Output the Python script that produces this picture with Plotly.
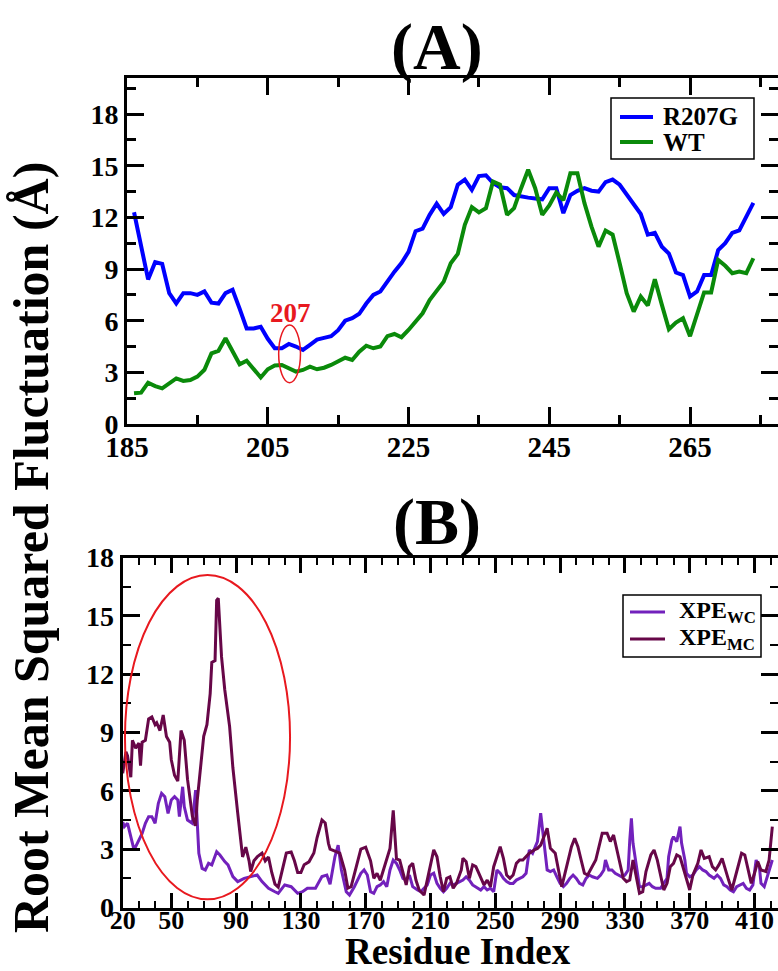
import plotly.graph_objects as go

# ---------------- Panel A: residues 186-274 ----------------
resid_a = list(range(186, 275))
rmsf_r207g = [
    12.3, 10.4, 8.4, 9.4, 9.3, 7.6, 7.0, 7.6, 7.6, 7.5,
    7.7, 7.05, 7.0, 7.6, 7.8, 6.7, 5.55, 5.55, 5.65, 4.95,
    4.4, 4.4, 4.65, 4.5, 4.3, 4.6, 4.9, 5.0, 5.1, 5.45,
    6.0, 6.15, 6.4, 7.0, 7.5, 7.7, 8.3, 8.85, 9.35, 10.0,
    11.2, 11.35, 12.15, 12.8, 12.2, 12.6, 13.9, 14.2, 13.6, 14.4,
    14.45, 14.0, 13.75, 13.7, 13.3, 13.2, 13.15, 13.1, 13.05, 13.7,
    13.7, 12.25, 13.3, 13.55, 13.7, 13.55, 13.5, 14.05, 14.2, 13.9,
    13.3, 12.8, 12.2, 11.0, 11.1, 10.3, 9.9, 8.8, 8.65, 7.4,
    7.7, 8.65, 8.65, 10.1, 10.5, 11.1, 11.25, 12.05, 12.85,
]
rmsf_wt = [
    1.78, 1.82, 2.4, 2.2, 2.07, 2.37, 2.65, 2.5, 2.55, 2.75,
    3.15, 4.1, 4.25, 4.98, 4.2, 3.47, 3.68, 3.18, 2.7, 3.18,
    3.4, 3.43, 3.24, 3.04, 3.14, 3.33, 3.18, 3.27, 3.43, 3.64,
    3.85, 3.72, 4.2, 4.55, 4.4, 4.5, 5.1, 5.23, 5.04, 5.46,
    5.95, 6.43, 7.2, 7.7, 8.27, 9.34, 9.88, 11.57, 12.6, 12.29,
    12.54, 14.09, 13.9, 12.15, 12.54, 13.7, 14.77, 13.7, 12.15, 12.7,
    13.45, 13.0, 14.57, 14.57, 12.83, 11.47, 10.3, 11.24, 11.0, 9.34,
    7.6, 6.53, 7.4, 6.88, 8.41, 6.92, 5.5, 5.89, 6.14, 5.1,
    6.43, 7.64, 7.64, 9.53, 9.19, 8.76, 8.86, 8.76, 9.63,
]

# ---------------- Panel B: XPE complexes ----------------
resid_mc = [
    20, 22, 23, 25, 26, 28, 30, 31, 32, 34, 36, 38, 40, 41, 43, 45, 47, 49, 50, 52,
    54, 56, 58, 60, 63, 65, 66, 70, 72, 74, 75, 77, 78, 79, 81, 83, 86, 88, 91, 94,
    96, 98, 99, 101, 103, 106, 108, 110, 112, 114, 116, 118, 121, 124, 126, 128, 130, 132, 135, 138,
    140, 143, 145, 147, 148, 151, 154, 157, 159, 161, 164, 167, 170, 173, 175, 177, 179, 181, 183, 185,
    187, 189, 191, 193, 195, 197, 199, 201, 203, 206, 208, 210, 212, 214, 216, 218, 220, 222, 224, 226,
    229, 230, 232, 234, 236, 238, 241, 243, 245, 247, 249, 251, 253, 255, 257, 259, 261, 263, 265, 267,
    269, 271, 274, 276, 278, 280, 282, 284, 287, 289, 291, 293, 295, 297, 299, 301, 303, 305, 307, 310,
    312, 314, 316, 319, 321, 323, 325, 327, 329, 331, 333, 335, 337, 339, 341, 343, 346, 348, 350, 352,
    354, 356, 358, 360, 362, 364, 366, 368, 370, 372, 375, 377, 379, 382, 384, 386, 388, 390, 392, 394,
    396, 398, 400, 402, 404, 406, 408, 410, 412, 414, 417, 419, 421,
]
rmsf_mc = [
    6.9, 8.0, 7.8, 6.7, 8.6, 8.2, 8.45, 7.3, 8.5, 8.6, 9.7, 9.8, 9.4, 9.5, 9.1, 9.9, 8.8, 8.5, 7.6, 6.8,
    6.5, 9.1, 8.6, 6.6, 4.7, 4.2, 5.5, 8.8, 9.4, 11.0, 12.6, 12.7, 15.8, 15.9, 12.9, 11.2, 9.3, 7.2, 4.85, 2.6,
    3.1, 2.4, 1.85, 2.4, 2.6, 2.8, 2.4, 2.6, 1.8, 1.2, 1.05, 1.75, 2.8, 2.85, 2.4, 1.8, 1.8, 2.2, 2.35, 2.8,
    3.6, 4.5, 4.35, 3.3, 3.0, 2.9, 2.8, 1.93, 1.0, 1.07, 2.1, 3.0, 3.1, 2.4, 1.5, 1.76, 1.4, 1.93, 2.44, 3.04,
    5.0, 2.5, 2.44, 1.76, 1.16, 2.1, 2.27, 1.41, 0.9, 0.64, 1.41, 2.1, 2.96, 2.61, 1.58, 0.81, 1.5, 1.58, 0.99, 1.24,
    1.93, 2.53, 2.36, 1.5, 2.19, 2.1, 1.58, 1.16, 1.41, 1.07, 2.1, 2.61, 3.13, 2.53, 1.67, 1.5, 1.67, 2.27, 2.44, 2.44,
    2.61, 2.79, 2.96, 3.04, 3.21, 3.64, 4.07, 3.04, 2.79, 1.93, 1.07, 1.76, 2.44, 3.13, 3.56, 3.13, 2.44, 1.76, 1.67, 2.10,
    2.44, 3.13, 3.82, 3.82, 3.39, 3.73, 3.04, 2.27, 1.50, 1.33, 1.41, 2.44, 1.50, 0.73, 0.81, 1.85, 2.70, 2.96, 2.44, 1.67,
    0.90, 1.24, 2.10, 2.27, 2.70, 2.61, 2.02, 1.41, 0.90, 1.67, 2.27, 2.96, 2.53, 2.61, 2.10, 1.93, 2.19, 2.53, 1.93, 1.41,
    0.90, 1.50, 2.10, 2.79, 2.70, 1.93, 1.24, 1.76, 2.36, 1.93, 1.85, 2.44, 4.16,
]

resid_wc = [
    20, 21, 23, 25, 27, 29, 32, 34, 36, 38, 40, 42, 44, 46, 48, 50, 52, 54, 55, 57,
    58, 60, 63, 65, 66, 67, 69, 71, 73, 75, 78, 80, 83, 85, 88, 91, 95, 99, 103, 106,
    110, 114, 116, 120, 124, 128, 131, 134, 139, 143, 146, 148, 151, 153, 155, 158, 160, 163, 167, 169,
    171, 173, 175, 177, 179, 181, 183, 185, 187, 189, 191, 193, 195, 197, 199, 202, 204, 206, 208, 210,
    212, 214, 216, 218, 220, 222, 224, 226, 228, 230, 232, 234, 236, 238, 241, 243, 245, 247, 249, 251,
    253, 255, 257, 259, 261, 263, 265, 267, 269, 271, 273, 276, 278, 280, 282, 284, 286, 288, 290, 292,
    294, 296, 298, 300, 302, 304, 306, 308, 310, 313, 315, 317, 318, 320, 322, 324, 326, 328, 330, 332,
    333, 334, 335, 338, 339, 341, 343, 345, 347, 349, 352, 354, 356, 357, 359, 360, 362, 364, 365, 367,
    368, 370, 372, 374, 376, 378, 380, 382, 385, 387, 389, 391, 393, 395, 397, 399, 401, 403, 405, 407,
    409, 411, 413, 414, 416, 418, 421,
]
rmsf_wc = [
    4.4, 4.16, 4.33, 3.64, 2.96, 3.30, 3.81, 4.33, 4.67, 4.67, 4.33, 5.36, 5.87, 5.70, 4.84, 5.53, 5.70, 5.53, 4.67, 6.21,
    5.19, 4.50, 4.33, 6.04, 4.16, 2.79, 2.01, 1.93, 2.27, 2.19, 2.87, 2.70, 2.36, 2.19, 1.59, 1.33, 1.50, 1.59, 1.67, 1.33,
    0.99, 0.81, 0.73, 1.16, 1.07, 0.73, 0.81, 0.99, 0.99, 1.59, 1.67, 1.2, 2.61, 3.21, 1.93, 0.81, 0.64, 1.07, 1.76, 1.93,
    1.67, 0.81, 0.73, 1.07, 1.16, 1.33, 1.07, 1.93, 2.44, 2.27, 1.93, 1.50, 1.41, 1.67, 1.07, 0.90, 0.81, 0.99, 1.16, 1.67,
    1.76, 1.24, 0.99, 0.81, 0.99, 1.24, 1.16, 1.24, 1.33, 1.41, 1.58, 1.41, 1.16, 1.07, 0.90, 1.07, 0.90, 0.99, 0.81, 1.93,
    1.76, 1.50, 1.33, 1.24, 1.24, 1.41, 1.50, 1.58, 1.76, 2.96, 2.79, 3.39, 4.85, 3.30, 1.93, 1.85, 1.93, 1.58, 1.24, 1.07,
    1.24, 1.50, 1.67, 1.50, 1.24, 1.16, 1.50, 1.67, 1.58, 1.50, 1.67, 1.93, 2.44, 1.93, 1.93, 1.76, 1.67, 1.58, 1.67, 1.93,
    3.47, 4.59, 3.30, 1.67, 1.07, 1.07, 1.16, 1.24, 1.07, 0.99, 0.99, 1.24, 1.50, 2.61, 3.47, 3.64, 3.39, 4.16, 3.30, 2.44,
    1.76, 1.58, 1.67, 1.93, 2.10, 1.93, 1.85, 1.67, 1.50, 1.67, 1.50, 1.16, 1.07, 0.90, 0.81, 1.07, 1.16, 1.24, 0.99, 0.90,
    1.16, 2.44, 2.10, 1.24, 1.07, 1.58, 2.44,
]

b_ticks = [20, 50, 90, 130, 170, 210, 250, 290, 330, 370, 410]
y_ticks = [0, 3, 6, 9, 12, 15, 18]

FONT = "Liberation Serif"
W, H = 778, 971
BLUE, GREEN, INDIGO, MAROON, RED = "#0000ff", "#0a8a0a", "#7221bc", "#670748", "#e8191f"

fig = go.Figure()

series = [
    ("R207G", resid_a, rmsf_r207g, BLUE, 4, "x", "y"),
    ("WT", resid_a, rmsf_wt, GREEN, 4, "x", "y"),
    ("XPE<sub>WC</sub>", resid_wc, rmsf_wc, INDIGO, 3, "x2", "y2"),
    ("XPE<sub>MC</sub>", resid_mc, rmsf_mc, MAROON, 3, "x2", "y2"),
]
for name, xs, ys, color, width, xa, ya in series:
    fig.add_trace(go.Scatter(x=xs, y=ys, mode="lines", name=name, showlegend=False,
                             line=dict(color=color, width=width), xaxis=xa, yaxis=ya))


def axis_style(major_len, tick_size, **kw):
    d = dict(
        showline=True, linecolor="black", linewidth=3, mirror="ticks",
        ticks="inside", ticklen=major_len, tickwidth=2.5, tickcolor="black",
        showgrid=False, zeroline=False, automargin=False,
        tickfont=dict(family=FONT, size=tick_size, color="black", weight="bold"),
    )
    d.update(kw)
    return d


fig.update_layout(
    template="none",
    width=W, height=H, autosize=False,
    margin=dict(l=0, r=0, t=0, b=0, pad=0),
    paper_bgcolor="white", plot_bgcolor="white",
    showlegend=False,
    xaxis=axis_style(17, 29, domain=[127 / W, 1], range=[185, 277.5],
                     tickmode="linear", tick0=185, dtick=20, anchor="y",
                     ticklabelstandoff=-5,
                     minor=dict(ticks="inside", ticklen=9, tickwidth=2.5, tickcolor="black",
                                tick0=185, dtick=10, showgrid=False)),
    yaxis=axis_style(17, 28, domain=[1 - 424 / H, 1 - 78 / H], range=[0, 20.1],
                     tickmode="array", tickvals=y_ticks, anchor="x",
                     minor=dict(ticks="inside", ticklen=9, tickwidth=2.5, tickcolor="black",
                                tick0=0, dtick=1.5, showgrid=False)),
    xaxis2=axis_style(15, 26, domain=[122.7 / W, 1], range=[20, 424.5],
                      tickmode="array", tickvals=b_ticks, ticktext=[str(t) for t in b_ticks],
                      anchor="y2", ticklabelstandoff=-13,
                      minor=dict(ticks="inside", ticklen=7, tickwidth=2, tickcolor="black",
                                 tickmode="linear", tick0=10, dtick=10, showgrid=False)),
    yaxis2=axis_style(17, 28, domain=[1 - 907.5 / H, 1 - 557.5 / H], range=[0, 18],
                      tickmode="array", tickvals=y_ticks, anchor="x2",
                      minor=dict(ticks="inside", ticklen=8, tickwidth=2, tickcolor="black",
                                 tick0=0, dtick=1.5, showgrid=False)),
)


def px_x(p):
    return p / W


def px_y(p):
    return 1 - p / H


def draw_legend(box, entries, line_x, text_x, font_size):
    """Boxed legend: box=(left, top, right, bottom) in pixels,
    entries=[(label, color, width, row_y)]."""
    l, t, r, b = box
    fig.add_shape(type="rect", xref="paper", yref="paper",
                  x0=px_x(l), x1=px_x(r), y0=px_y(b), y1=px_y(t),
                  line=dict(color="black", width=1.5), fillcolor="white", layer="above")
    for label, color, width, row_y in entries:
        fig.add_shape(type="line", xref="paper", yref="paper",
                      x0=px_x(line_x[0]), x1=px_x(line_x[1]), y0=px_y(row_y), y1=px_y(row_y),
                      line=dict(color=color, width=width), layer="above")
        fig.add_annotation(x=px_x(text_x), y=px_y(row_y), xref="paper", yref="paper",
                           text=label, showarrow=False, xanchor="left", yanchor="middle",
                           font=dict(family=FONT, size=font_size, color="black", weight="bold"))


draw_legend((611, 98, 754, 159),
            [(series[0][0], BLUE, 4, 117), (series[1][0], GREEN, 4, 142)],
            (620, 653), 661, 25)
draw_legend((623, 595, 761, 657),
            [(series[2][0], INDIGO, 3, 612), (series[3][0], MAROON, 3, 639)],
            (630, 665), 677, 24)

# Highlight residue 207 in panel A and the N-terminal region in panel B
fig.add_shape(type="circle", xref="x", yref="y", x0=206.55, x1=209.65, y0=2.4, y1=5.75,
              line=dict(color=RED, width=1.5), fillcolor="rgba(0,0,0,0)")
fig.add_annotation(x=208.3, y=6.45, xref="x", yref="y", text="207", showarrow=False,
                   xanchor="center", yanchor="middle",
                   font=dict(family=FONT, size=27, color=RED, weight="bold"))
fig.add_shape(type="circle", xref="x2", yref="y2", x0=21.4, x1=123.3, y0=0.42, y1=17.1,
              line=dict(color=RED, width=2), fillcolor="rgba(0,0,0,0)")

# Panel labels and shared axis titles
label_font = dict(family=FONT, size=66, color="black", weight="bold")
fig.add_annotation(x=px_x(437), y=px_y(47), xref="paper", yref="paper", text="(A)",
                   xanchor="center", yanchor="middle", showarrow=False, font=label_font)
fig.add_annotation(x=px_x(437), y=px_y(522), xref="paper", yref="paper", text="(B)",
                   xanchor="center", yanchor="middle", showarrow=False, font=label_font)
fig.add_annotation(x=px_x(458), y=px_y(951), xref="paper", yref="paper", text="Residue Index",
                   xanchor="center", yanchor="middle", showarrow=False,
                   font=dict(family=FONT, size=37, color="black", weight="bold"))
fig.add_annotation(x=px_x(31), y=px_y(548), xref="paper", yref="paper",
                   text="Root Mean Squared Fluctuation (Å)", textangle=-90,
                   xanchor="center", yanchor="middle", showarrow=False,
                   font=dict(family=FONT, size=50, color="black", weight="bold"))

fig.write_html("out.html")
